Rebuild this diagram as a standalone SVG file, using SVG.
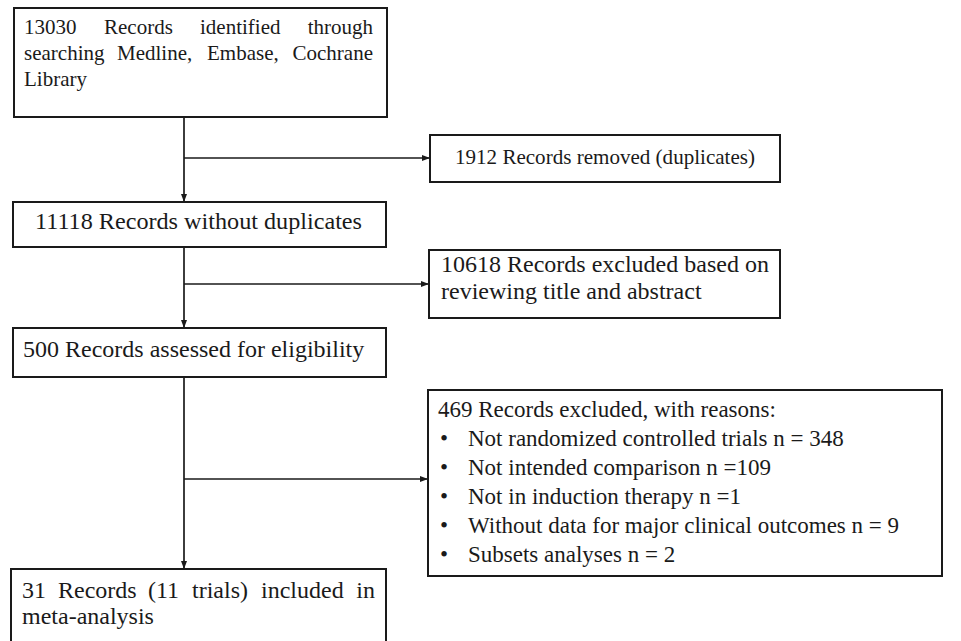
<svg xmlns="http://www.w3.org/2000/svg" width="961" height="641" viewBox="0 0 961 641">
<style>
.box{fill:#fff;stroke:#1a1a1a;stroke-width:2}
.t{font-family:"Liberation Serif","Times New Roman",serif;fill:#1a1a1a}
.conn{stroke:#1a1a1a;stroke-width:1.7;fill:none}
</style>
<defs>
<marker id="ah" markerWidth="8" markerHeight="8" refX="7" refY="4" orient="auto" markerUnits="userSpaceOnUse">
<path d="M0,1 L8,4 L0,7 Z" fill="#1a1a1a"/>
</marker>
</defs>
<rect width="961" height="641" fill="#fff"/>
<g id="connectors">
<line class="conn" x1="184" y1="117" x2="184" y2="201" marker-end="url(#ah)"/>
<line class="conn" x1="184" y1="158" x2="429" y2="158" marker-end="url(#ah)"/>
<line class="conn" x1="184" y1="247" x2="184" y2="327" marker-end="url(#ah)"/>
<line class="conn" x1="184" y1="284" x2="428" y2="284" marker-end="url(#ah)"/>
<line class="conn" x1="184" y1="377" x2="184" y2="568" marker-end="url(#ah)"/>
<line class="conn" x1="184" y1="479" x2="427" y2="479" marker-end="url(#ah)"/>
</g>
<g id="n1">
<rect class="box" x="14" y="8" width="373" height="109"/>
<text class="t" font-size="21" y="34"><tspan x="24">13030</tspan><tspan x="104">Records</tspan><tspan x="200">identified</tspan><tspan x="373" text-anchor="end">through</tspan></text>
<text class="t" font-size="21" y="60"><tspan x="24">searching</tspan><tspan x="117">Medline,</tspan><tspan x="207">Embase,</tspan><tspan x="373" text-anchor="end">Cochrane</tspan></text>
<text class="t" font-size="21" x="24" y="86">Library</text>
</g>
<g id="n2">
<rect class="box" x="430" y="135" width="350" height="47"/>
<text class="t" font-size="22" x="455" y="164" textLength="300" lengthAdjust="spacingAndGlyphs">1912 Records removed (duplicates)</text>
</g>
<g id="n3">
<rect class="box" x="13" y="202" width="373" height="45"/>
<text class="t" font-size="24" x="35" y="229" textLength="327" lengthAdjust="spacingAndGlyphs">11118 Records without duplicates</text>
</g>
<g id="n4">
<rect class="box" x="429" y="250" width="351" height="68"/>
<text class="t" font-size="24" x="441" y="272">10618 Records excluded based on</text>
<text class="t" font-size="24" x="441" y="299">reviewing title and abstract</text>
</g>
<g id="n5">
<rect class="box" x="13" y="328" width="373" height="49"/>
<text class="t" font-size="24" x="23" y="357">500 Records assessed for eligibility</text>
</g>
<g id="n6">
<rect class="box" x="428" y="390" width="514" height="186"/>
<text class="t" font-size="23" x="438" y="417">469 Records excluded, with reasons:</text>
<g class="t" font-size="23">
<text x="440" y="446">•</text><text x="468" y="446">Not randomized controlled trials n = 348</text>
<text x="440" y="475">•</text><text x="468" y="475">Not intended comparison n =109</text>
<text x="440" y="504">•</text><text x="468" y="504">Not in induction therapy n =1</text>
<text x="440" y="533">•</text><text x="468" y="533">Without data for major clinical outcomes n = 9</text>
<text x="440" y="562">•</text><text x="468" y="562">Subsets analyses n = 2</text>
</g>
</g>
<g id="n7">
<rect class="box" x="11" y="569" width="375" height="90"/>
<text class="t" font-size="24" y="598"><tspan x="22">31</tspan><tspan x="58">Records</tspan><tspan x="148">(11</tspan><tspan x="192">trials)</tspan><tspan x="261">included</tspan><tspan x="375" text-anchor="end">in</tspan></text>
<text class="t" font-size="24" x="22" y="624">meta-analysis</text>
</g>
</svg>
